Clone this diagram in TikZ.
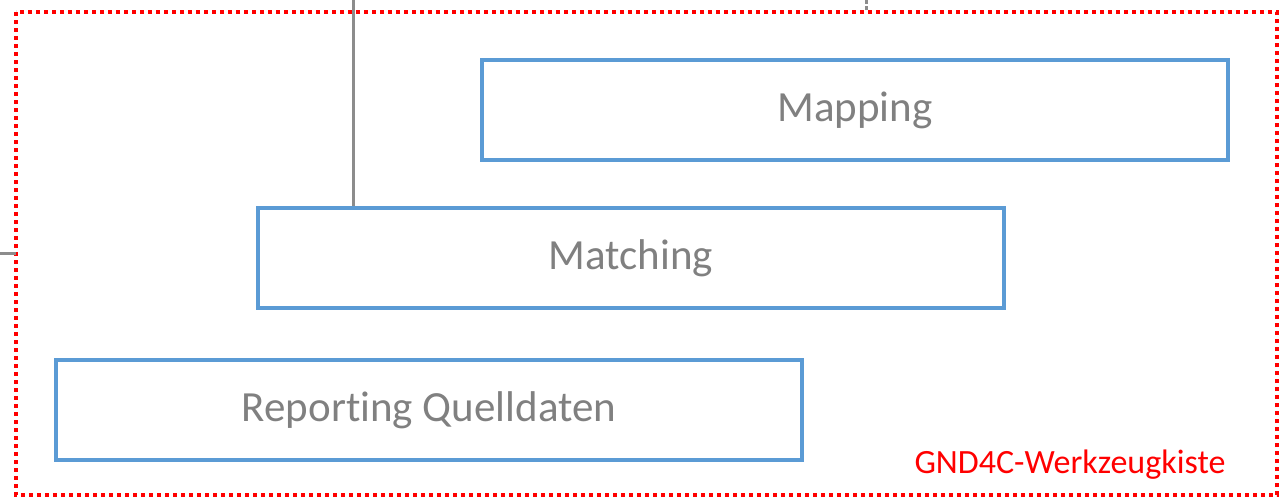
\documentclass[tikz,border=0pt]{standalone}
\usepackage{fontspec}
\setmainfont[Ligatures=NoCommon]{Carlito}
\definecolor{boxblue}{HTML}{5B9BD5}
\definecolor{txtgray}{HTML}{808080}
\definecolor{linegray}{HTML}{8C8C8C}

\begin{document}
\begin{tikzpicture}[x=1pt, y=-1pt, semithick,
  tool/.style = {draw=boxblue, line width=4pt, minimum width=746pt, minimum height=100pt,
                 inner sep=0pt, text=txtgray, font=\fontsize{43}{46}\selectfont},
  link/.style = {draw=linegray, line width=3pt}]
\useasboundingbox (0,0) rectangle (1281,499);
\draw[red, line width=4pt, dash pattern=on 4pt off 4pt] (16,12) rectangle (1277,495);
\node[tool] (mapping) at (855,110) {Mapping};
\node[tool] (matching) at (631,258) {Matching};
\node[tool] (reporting) at (429,410) {Reporting Quelldaten};
\node[anchor=base east, text=red, font=\fontsize{34}{38}\selectfont] (kiste) at (1229,473) {GND4C-Werkzeugkiste};
\coordinate (in1) at (353,0);
\coordinate (in2) at (866,0);
\coordinate (in3) at (0,253);
\path[link] (in1) edge (in1 |- matching.north);
\path[link, dash pattern=on 4pt off 2pt] (in2) edge ++(0,11);
\path[link] (in3) edge ++(16,0);
\end{tikzpicture}
\end{document}
